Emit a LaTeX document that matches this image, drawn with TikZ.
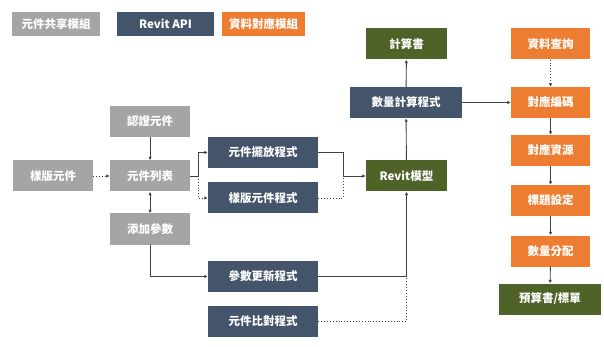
\documentclass[tikz,border=0pt]{standalone}
\usepackage{fontspec}
\setmainfont{Noto Sans CJK TC}
\usetikzlibrary{arrows.meta}
\definecolor{bim-gray}{HTML}{A5A5A5}
\definecolor{bim-navy}{HTML}{44546A}
\definecolor{bim-orange}{HTML}{ED7D31}
\definecolor{bim-green}{HTML}{4F6228}
\definecolor{bim-line}{HTML}{404040}

\begin{document}
\begin{tikzpicture}[
    x=1pt, y=-1pt,
    >={Latex[length=3.5pt,width=3.5pt]},
    box/.style={inner sep=0pt, minimum height=31pt, align=center, text=white, font=\fontsize{11.5}{13}\selectfont\bfseries},
    share/.style={box, fill=bim-gray, minimum width=80pt},
    api/.style={box, fill=bim-navy, minimum width=110pt},
    map/.style={box, fill=bim-orange, minimum width=79pt},
    result/.style={box, fill=bim-green, minimum width=81pt},
    line/.style={draw=bim-line, line width=0.9pt},
    conn/.style={->, line},
    dotline/.style={line, dotted}
]
\useasboundingbox[fill=white] (0,0) rectangle (604,347);

% =========================================================================
% LEGENDA
% =========================================================================
\node[share, minimum width=88pt, minimum height=24pt] (legshare) at (56,24) {元件共享模組};
\node[api, minimum width=97pt, minimum height=24pt] (legapi) at (165.5,24) {Revit API};
\node[map, minimum width=83pt, minimum height=24pt] (legmap) at (263.5,24) {資料對應模組};

% =========================================================================
% MÓDULO DE COMPARTILHAMENTO (cinza)
% =========================================================================
\node[share] (tmpl)  at (53,176)    {樣版元件};
\node[share] (cert)  at (150,121.5) {認證元件};
\node[share] (list)  at (150,176)   {元件列表};
\node[share] (param) at (150,229)   {添加參數};

\draw[conn, dotted] (tmpl) -- (list);
\draw[conn] (cert) -- (list);
\draw[<->, line] (list) -- (param);

% =========================================================================
% PROGRAMAS REVIT API
% =========================================================================
\node[api] (place)    at (263,152.5) {元件擺放程式};
\node[api] (tmplprog) at (263,198)   {樣版元件程式};
\node[api] (update)   at (263,276.5) {參數更新程式};
\node[api] (compare)  at (263,321.5) {元件比對程式};

\draw[conn] (list.east) -- ++(8,0) coordinate (fork) |- (place.west);
\draw[conn, dotted] (fork) |- (tmplprog.west);
\draw[conn] (param.south) |- (update.west);

% =========================================================================
% MODELO REVIT E CÁLCULO
% =========================================================================
\node[result] (revit) at (406.5,176)  {Revit模型};
\node[api, minimum width=112pt] (qty) at (406,102.5) {數量計算程式};
\node[result] (calc)  at (406.5,44)   {計算書};

\coordinate (mergeA) at (343,176);
\draw[line] (place.east) -| (mergeA);
\draw[dotline] (tmplprog.east) -| (mergeA);
\draw[conn] (mergeA) -- (revit.west);

\coordinate (mergeB) at (revit.south |- update.east);
\draw[conn] (update.east) -| (revit.south);
\draw[dotline] (compare.east) -| (mergeB);

\draw[conn] (revit) -- (qty);
\draw[conn] (qty) -- (calc);

% =========================================================================
% MÓDULO DE CORRESPONDÊNCIA (laranja)
% =========================================================================
\node[map] (query)  at (550.5,44)    {資料查詢};
\node[map] (code)   at (550.5,102.5) {對應編碼};
\node[map] (res)    at (550.5,150.5) {對應資源};
\node[map] (title)  at (550.5,200.5) {標題設定};
\node[map] (dist)   at (550.5,251)   {數量分配};
\node[result, minimum width=102pt] (budget) at (550,299) {預算書/標單};

\draw[conn] (qty) -- (code);
\draw[conn, dotted] (query) -- (code);
\draw[conn] (code) -- (res);
\draw[conn] (res) -- (title);
\draw[conn] (title) -- (dist);
\draw[conn] (dist) -- (budget);

\end{tikzpicture}
\end{document}
